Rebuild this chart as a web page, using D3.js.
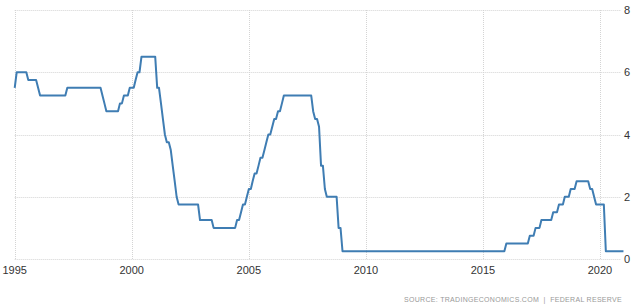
<!DOCTYPE html>
<html lang="en">
<head>
  <meta charset="utf-8">
  <title>Fed funds rate</title>
  <script src="https://d3js.org/d3.v7.min.js"></script>
  <style>
    body { margin: 0; background: #fff; }
    text { font-family: "Liberation Sans", Arial, sans-serif; }
  </style>
</head>
<body>
<svg id="chart" width="640" height="307"></svg>
<script>
// vertices of the monthly series (rate on the first of the month, %)
var months = [
  "1995-01","1995-02","1995-07","1995-08","1995-12","1996-01","1996-02","1997-03","1997-04",
  "1998-09","1998-10","1998-11","1998-12","1999-06","1999-07","1999-08","1999-09","1999-11",
  "1999-12","2000-02","2000-03","2000-04","2000-05","2000-06","2001-01","2001-02","2001-03",
  "2001-04","2001-05","2001-06","2001-07","2001-08","2001-09","2001-10","2001-11","2001-12",
  "2002-01","2002-11","2002-12","2003-06","2003-07","2004-06","2004-07","2004-08","2004-09",
  "2004-10","2004-11","2004-12","2005-01","2005-02","2005-03","2005-04","2005-05","2005-06",
  "2005-07","2005-08","2005-09","2005-10","2005-11","2005-12","2006-01","2006-02","2006-03",
  "2006-04","2006-05","2006-06","2006-07","2007-09","2007-10","2007-11","2007-12","2008-01",
  "2008-02","2008-03","2008-04","2008-05","2008-10","2008-11","2008-12","2009-01","2015-12",
  "2016-01","2016-12","2017-01","2017-03","2017-04","2017-06","2017-07","2017-12","2018-01",
  "2018-03","2018-04","2018-06","2018-07","2018-09","2018-10","2018-12","2019-01","2019-07",
  "2019-08","2019-09","2019-10","2019-11","2020-03","2020-04","2021-01"
];
var rates = [
  5.5, 6.0, 6.0, 5.75, 5.75, 5.5, 5.25, 5.25, 5.5,
  5.5, 5.25, 5.0, 4.75, 4.75, 5.0, 5.0, 5.25, 5.25,
  5.5, 5.5, 5.75, 6.0, 6.0, 6.5, 6.5, 5.5, 5.5,
  5.0, 4.5, 4.0, 3.75, 3.75, 3.5, 3.0, 2.5, 2.0,
  1.75, 1.75, 1.25, 1.25, 1.0, 1.0, 1.25, 1.25, 1.5,
  1.75, 1.75, 2.0, 2.25, 2.25, 2.5, 2.75, 2.75, 3.0,
  3.25, 3.25, 3.5, 3.75, 4.0, 4.0, 4.25, 4.5, 4.5,
  4.75, 4.75, 5.0, 5.25, 5.25, 4.75, 4.5, 4.5, 4.25,
  3.0, 3.0, 2.25, 2.0, 2.0, 1.0, 1.0, 0.25, 0.25,
  0.5, 0.5, 0.75, 0.75, 1.0, 1.0, 1.25, 1.25, 1.5,
  1.5, 1.75, 1.75, 2.0, 2.0, 2.25, 2.25, 2.5, 2.5,
  2.25, 2.25, 2.0, 1.75, 1.75, 0.25, 0.25
];
var xTickYears = [1995, 2000, 2005, 2010, 2015, 2020];
var yTicks = [0, 2, 4, 6, 8];
var sourceText = "SOURCE: TRADINGECONOMICS.COM  |  FEDERAL RESERVE";

var parse = d3.timeParse("%Y-%m");
var data = months.map(function(m, i) { return {date: parse(m), value: rates[i]}; });

var svg = d3.select("#chart");
var plotLeft = 14.7, plotTop = 10, plotBottom = 259;

// 1995 gridline at 14.7, 2020 gridline at 600
var x = d3.scaleTime()
    .domain([parse("1995-01"), parse("2020-01")])
    .range([plotLeft, 600]);
var y = d3.scaleLinear().domain([0, 8]).range([plotBottom, plotTop]);

// horizontal grid + right labels
svg.append("g").selectAll("line")
    .data(yTicks)
    .enter()
    .append("line")
    .attr("x1", plotLeft)
    .attr("x2", 621)
    .attr("y1", function(d) { return Math.round(y(d)) + 0.5; })
    .attr("y2", function(d) { return Math.round(y(d)) + 0.5; })
    .attr("stroke", "#d4d4d4")
    .attr("stroke-dasharray", "1,1");

svg.append("g").selectAll("text")
    .data(yTicks)
    .enter()
    .append("text")
    .attr("x", 624)
    .attr("y", function(d) { return y(d) + 4; })
    .attr("font-size", "11px")
    .attr("fill", "#333")
    .text(function(d) { return d; });

// vertical grid + bottom labels
var xTicks = xTickYears.map(function(yr) { return new Date(yr, 0, 1); });
svg.append("g").selectAll("line")
    .data(xTicks)
    .enter()
    .append("line")
    .attr("x1", function(d) { return Math.round(x(d)) + 0.5; })
    .attr("x2", function(d) { return Math.round(x(d)) + 0.5; })
    .attr("y1", plotTop)
    .attr("y2", plotBottom)
    .attr("stroke", "#d4d4d4")
    .attr("stroke-dasharray", "1,1");

svg.append("g").selectAll("text")
    .data(xTicks)
    .enter()
    .append("text")
    .attr("x", function(d) { return x(d); })
    .attr("y", 274)
    .attr("text-anchor", "middle")
    .attr("font-size", "11px")
    .attr("fill", "#333")
    .text(function(d) { return d.getFullYear(); });

// the series
var line = d3.line()
    .x(function(d) { return x(d.date); })
    .y(function(d) { return y(d.value); });

svg.append("path")
    .datum(data)
    .attr("d", line)
    .attr("fill", "none")
    .attr("stroke", "#3f7db3")
    .attr("stroke-width", 2)
    .attr("stroke-linejoin", "round");

svg.append("text")
    .attr("x", 622)
    .attr("y", 302)
    .attr("text-anchor", "end")
    .attr("font-size", "7px")
    .attr("letter-spacing", "0.3px")
    .attr("fill", "#999")
    .style("white-space", "pre")
    .text(sourceText);
</script>
</body>
</html>
